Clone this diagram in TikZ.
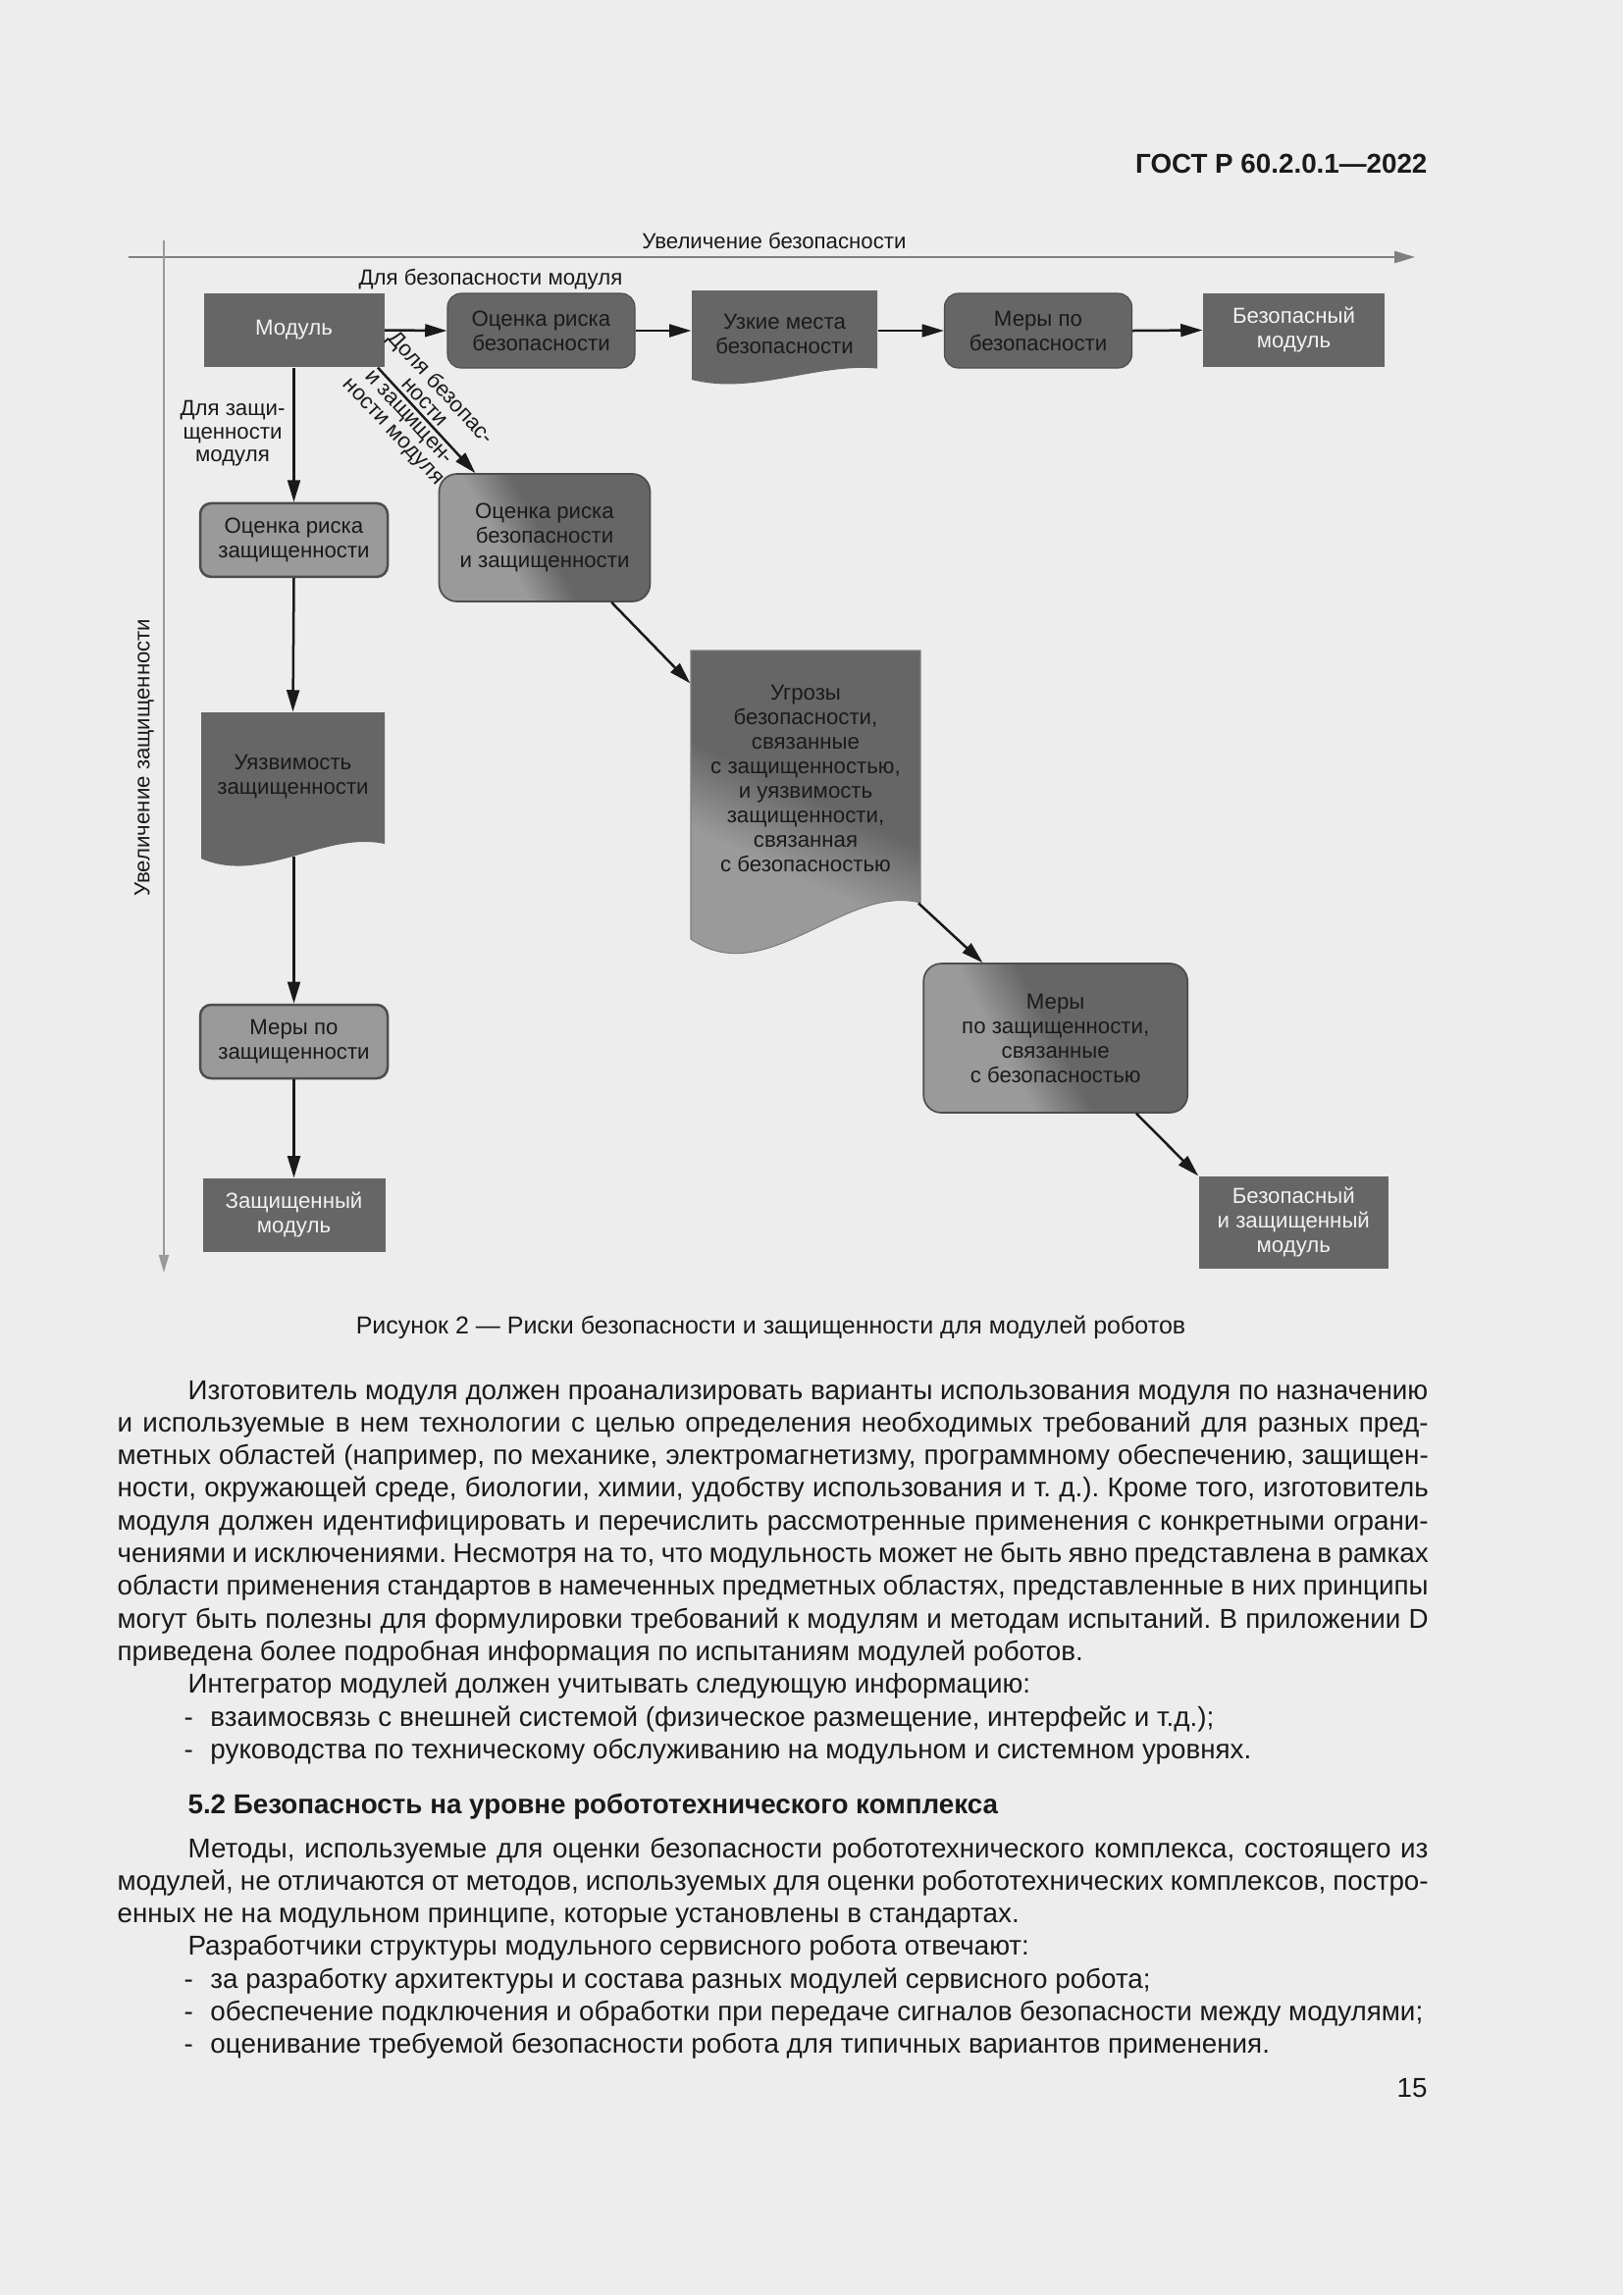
\documentclass[tikz,border=0pt]{standalone}
\usepackage{fontspec}
\setmainfont{Liberation Sans}
\usetikzlibrary{arrows.meta,calc}
\definecolor{pagebg}{HTML}{EDEDED}
\definecolor{dk}{HTML}{666666}
\definecolor{lt}{HTML}{9A9A9A}
\definecolor{axisg}{HTML}{7F7F7F}
\definecolor{vaxis}{HTML}{9A9A9A}
\definecolor{txt}{HTML}{1A1A1A}
\definecolor{edge}{HTML}{4D4D4D}
\definecolor{wtxt}{HTML}{F2F2F2}
\pgfdeclarehorizontalshading{gradA}{100bp}{color(0bp)=(lt); color(38bp)=(lt); color(50bp)=(dk); color(100bp)=(dk)}
\pgfdeclarehorizontalshading{gradB}{100bp}{color(0bp)=(lt); color(41bp)=(lt); color(54bp)=(dk); color(100bp)=(dk)}
\frenchspacing
\begin{document}
\begin{tikzpicture}[x=0.36pt,y=-0.36pt,
  sz/.style 2 args={minimum width={#1*0.36pt},minimum height={#2*0.36pt}},
  box/.style={rectangle,inner sep=0pt,align=center,font=\fontsize{8}{9}\selectfont,text=txt},
  darkbox/.style={box,fill=dk,text=wtxt},
  roundd/.style={box,fill=dk,draw=edge,line width=0.4pt,rounded corners=5pt},
  roundl/.style={box,fill=lt,draw=edge,line width=0.9pt,rounded corners=4pt},
  gradbox/.style={box,shading=gradA,shading angle=28,draw=edge,line width=0.6pt,rounded corners=6.5pt},
  ghost/.style={rectangle,inner sep=0pt},
  lbl/.style={inner sep=0pt,align=center,font=\fontsize{8}{9}\selectfont,text=txt},
  arr/.style={draw=txt,line width=0.9pt,-{Triangle[length=8pt,width=4.6pt]}},
  haxis/.style={draw=axisg,line width=0.8pt,-{Triangle[length=7.5pt,width=4.3pt]}},
  vaxis/.style={draw=vaxis,line width=0.6pt,-{Triangle[length=6.5pt,width=3.6pt]}},
  body/.style={inner sep=0pt,anchor=base west,font=\fontsize{10}{12}\selectfont,text=txt},
  bodyb/.style={body,font=\bfseries\fontsize{10}{12}\selectfont}
]
\path[use as bounding box,fill=pagebg] (0,0) rectangle (1654,2339);

% header
\node[inner sep=0pt,anchor=base east,font=\bfseries\fontsize{10}{12}\selectfont,text=txt] (hdr) at (1455,176) {ГОСТ Р 60.2.0.1—2022};

% axes
\coordinate (hx0) at (131,262);
\coordinate (hx1) at (1442,262);
\draw[haxis] (hx0) -- (hx1);
\coordinate (vy0) at (167,245);
\coordinate (vy1) at (167,1297);
\draw[vaxis] (vy0) -- (vy1);
\node[lbl,anchor=base] (hlab) at (789,253) {Увеличение безопасности};
\node[lbl,rotate=90] (vlab) at (147,772) {Увеличение защищенности};
\node[lbl,anchor=base] (lsafe) at (500,290.7) {Для безопасности модуля};
\node[lbl,font=\fontsize{8}{8.5}\selectfont] (lsec) at (237,442) {Для защи-\\щенности\\модуля};

% top row
\node[darkbox,sz={184}{75}] (mod) at (299.5,336.5) {Модуль};
\node[roundd,sz={191}{76}] (ozb) at (551.5,337) {Оценка риска\\безопасности};
\fill[dk] (705,296) -- (894,296) -- (894,375.5) .. controls (831.6,370) and (767.4,403) .. (705,387) -- cycle;
\node[ghost,sz={189}{91}] (uzk) at (799.5,341.5) {};
\node[lbl] (uzkT) at (799.5,340) {Узкие места\\безопасности};
\node[roundd,sz={191}{76}] (mb) at (1058,337) {Меры по\\безопасности};
\node[darkbox,sz={185}{75}] (bm) at (1318.5,336.5) {Безопасный\\модуль};

% left column
\node[roundl,sz={191}{75}] (ozash) at (299.5,550.4) {Оценка риска\\защищенности};
\fill[dk] (205,726) -- (392,726) -- (392,860) .. controls (330,847) and (267,902) .. (205,875) -- cycle;
\node[ghost,sz={187}{149}] (uyazv) at (298.5,800.5) {};
\node[lbl] (uyazvT) at (298.5,792) {Уязвимость\\защищенности};
\coordinate (uyb) at (299.5,873);
\node[roundl,sz={191}{75}] (mz) at (299.5,1061.5) {Меры по\\защищенности};
\node[darkbox,sz={186}{75}] (zm) at (299.5,1238.5) {Защищенный\\модуль};

% diagonal
\node[gradbox,sz={215}{130}] (ogbz) at (555,548) {Оценка риска\\безопасности\\и защищенности};
\shade[shading=gradB,shading angle=65,draw=axisg,line width=0.4pt] (704,663) -- (938,663) -- (938,920) .. controls (861,900) and (781,1010) .. (704,957) -- cycle;
\node[ghost,sz={234}{294}] (ugr) at (821,810) {};
\node[lbl] (ugrT) at (821,793) {Угрозы\\безопасности,\\связанные\\с защищенностью,\\и уязвимость\\защищенности,\\связанная\\с безопасностью};
\coordinate (ugre) at (936,920.5);
\node[gradbox,sz={269}{152}] (mzb) at (1075.7,1058) {Меры\\по защищенности,\\связанные\\с безопасностью};
\node[darkbox,sz={193}{94}] (bzm) at (1318.3,1246) {Безопасный\\и защищенный\\модуль};

% connectors
\draw[arr] (mod.east) -- (ozb.west);
\draw[arr] (ozb.east) -- (ozb.east -| uzk.west);
\draw[arr] (mb.west -| uzk.east) -- (mb.west);
\draw[arr] (mb.east) -- (bm.west);
\draw[arr] (mod.south) -- (ozash.north);
\draw[arr] (ozash.south) -- (uyazv.north);
\draw[arr] (uyb) -- (mz.north);
\draw[arr] (mz.south) -- (zm.north);
\draw[arr] (mod.-24) -- node[pos=0.4,sloped,lbl,font=\fontsize{8}{7.8}\selectfont] (dlab) {Доля безопас-\\ности\\и защищен-\\ности модуля} (ogbz.137.5);
\draw[arr] (ogbz.-44.6) -- (ugr.136.25);
\draw[arr] (ugre) -- (mzb.134.4);
\draw[arr] (mzb.-43.8) -- (bzm.north west);

% caption
\node[inner sep=0pt,anchor=base,font=\fontsize{9}{11}\selectfont,text=txt] (cap) at (785.5,1359) {Рисунок 2 — Риски безопасности и защищенности для модулей роботов};

% body text
\node[body] (b1) at (191,1426) {\makebox[455pt][s]{Изготовитель модуля должен проанализировать варианты использования модуля по назначению}};
\node[body] (b2) at (119,1459.3) {\makebox[481pt][s]{и используемые в нем технологии с целью определения необходимых требований для разных пред-}};
\node[body] (b3) at (119,1492.6) {\makebox[481pt][s]{метных областей (например, по механике, электромагнетизму, программному обеспечению, защищен-}};
\node[body] (b4) at (119,1525.9) {\makebox[481pt][s]{ности, окружающей среде, биологии, химии, удобству использования и т.~д.). Кроме того, изготовитель}};
\node[body] (b5) at (119,1559.2) {\makebox[481pt][s]{модуля должен идентифицировать и перечислить рассмотренные применения с конкретными ограни-}};
\node[body] (b6) at (119,1592.5) {\makebox[481pt][s]{чениями и исключениями. Несмотря на то, что модульность может не быть явно представлена в рамках}};
\node[body] (b7) at (119,1625.8) {\makebox[481pt][s]{области применения стандартов в намеченных предметных областях, представленные в них принципы}};
\node[body] (b8) at (119,1659.1) {\makebox[481pt][s]{могут быть полезны для формулировки требований к модулям и методам испытаний. В приложении D}};
\node[body] (b9) at (119,1692.4) {приведена более подробная информация по испытаниям модулей роботов.};
\node[body] (b10) at (191,1725.7) {Интегратор модулей должен учитывать следующую информацию:};
\node[body] (b11) at (187,1759) {\makebox[9.7pt][l]{-}взаимосвязь с внешней системой (физическое размещение, интерфейс и т.д.);};
\node[body] (b12) at (187,1792.3) {\makebox[9.7pt][l]{-}руководства по техническому обслуживанию на модульном и системном уровнях.};
\node[bodyb] (hd) at (191,1848) {5.2 Безопасность на уровне робототехнического комплекса};
\node[body] (b13) at (191,1893) {\makebox[455pt][s]{Методы, используемые для оценки безопасности робототехнического комплекса, состоящего из}};
\node[body] (b14) at (119,1926.3) {\makebox[481pt][s]{модулей, не отличаются от методов, используемых для оценки робототехнических комплексов, постро-}};
\node[body] (b15) at (119,1959.6) {енных не на модульном принципе, которые установлены в стандартах.};
\node[body] (b16) at (191,1992.9) {Разработчики структуры модульного сервисного робота отвечают:};
\node[body] (b17) at (187,2026.2) {\makebox[9.7pt][l]{-}за разработку архитектуры и состава разных модулей сервисного робота;};
\node[body] (b18) at (187,2059.5) {\makebox[9.7pt][l]{-}обеспечение подключения и обработки при передаче сигналов безопасности между модулями;};
\node[body] (b19) at (187,2092.8) {\makebox[9.7pt][l]{-}оценивание требуемой безопасности робота для типичных вариантов применения.};
\node[body,anchor=base east] (pn) at (1455,2137) {15};
\end{tikzpicture}
\end{document}
